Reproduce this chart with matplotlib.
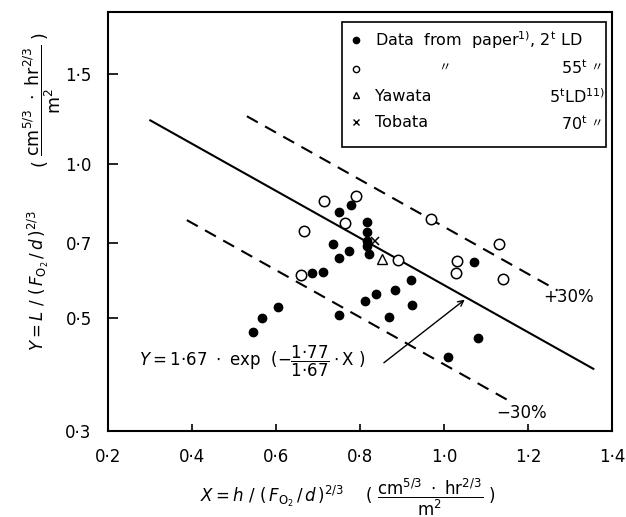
import matplotlib
matplotlib.use("Agg")
import matplotlib.pyplot as plt
import numpy as np
from matplotlib.lines import Line2D
from matplotlib.patches import Rectangle

# values
paper_2t_x = [0.777, 0.749, 0.817, 0.817, 0.817, 0.817, 0.820, 0.736, 0.772, 0.749,
              0.686, 0.711, 0.603, 0.565, 0.544, 0.749, 0.812, 0.838, 0.883, 0.921,
              0.924, 0.868, 1.071, 1.080, 1.009]
paper_2t_y = [0.832, 0.805, 0.769, 0.736, 0.705, 0.690, 0.667, 0.698, 0.676, 0.654,
              0.610, 0.613, 0.525, 0.500, 0.468, 0.507, 0.538, 0.556, 0.566, 0.592,
              0.529, 0.501, 0.641, 0.456, 0.419]
paper_55t_x = [0.713, 0.791, 0.763, 0.667, 0.658, 0.889, 0.968, 1.131, 1.031, 1.029, 1.139]
paper_55t_y = [0.844, 0.866, 0.766, 0.738, 0.607, 0.649, 0.780, 0.697, 0.644, 0.610, 0.596]
yawata_x = [0.851]
yawata_y = [0.651]
tobata_x = [0.836]
tobata_y = [0.707]

# Y = 1.67 exp(-1.77/1.67 X), with +-30 % bands
fit_a = 1.67
fit_b = 1.77
fit_x = [0.30, 1.355]
upper_x = [0.53, 1.27]
lower_x = [0.387, 1.15]

xticks = [0.2, 0.4, 0.6, 0.8, 1.0, 1.2, 1.4]
xticklabels = ['0·2', '0·4', '0·6', '0·8', '1·0', '1·2', '1·4']
yticks = [0.3, 0.5, 0.7, 1.0, 1.5]
yticklabels = ['0·3', '0·5', '0·7', '1·0', '1·5']


def fit(x, k=1.0):
    return k * fit_a * np.exp(-fit_b / fit_a * np.asarray(x))


fig = plt.figure(figsize=(6.26, 5.17), dpi=100)
ax = fig.add_axes([0.173, 0.166, 0.805, 0.811])

xs = np.linspace(fit_x[0], fit_x[1], 50)
ax.plot(xs, fit(xs), color='black', lw=1.5)
xs = np.linspace(upper_x[0], upper_x[1], 50)
ax.plot(xs, fit(xs, 1.3), color='black', lw=1.5, dashes=(6, 4))
xs = np.linspace(lower_x[0], lower_x[1], 50)
ax.plot(xs, fit(xs, 0.7), color='black', lw=1.5, dashes=(6, 4))

ax.plot(paper_2t_x, paper_2t_y, 'o', ms=6, color='black', ls='none')
ax.plot(paper_55t_x, paper_55t_y, 'o', ms=7.5, mfc='white', mec='black', mew=1.1, ls='none')
ax.plot(yawata_x, yawata_y, '^', ms=7, mfc='white', mec='black', mew=1.0, ls='none')
ax.plot(tobata_x, tobata_y, 'x', ms=6, color='black', mew=1.1, ls='none')

ax.set_yscale('log')
ax.set_xlim(0.2, 1.4)
ax.set_ylim(0.3, 1.98)
ax.set_xticks(xticks)
ax.set_xticklabels(xticklabels)
ax.set_yticks(yticks)
ax.set_yticklabels(yticklabels)
ax.yaxis.set_minor_locator(matplotlib.ticker.NullLocator())
ax.tick_params(axis='both', direction='in', labelsize=12, width=1.2)
ax.tick_params(axis='y', length=7, pad=12)
ax.tick_params(axis='x', length=5, pad=12)
for s in ax.spines.values():
    s.set_linewidth(1.5)

# equation and arrow
ax.text(0.272, 0.41, r'$Y = \mathrm{1·67\ \cdot\ exp}\ \ (-\dfrac{\mathrm{1·77}}{\mathrm{1·67}}\cdot\mathrm{X}\ )$',
        fontsize=12, ha='left', va='center')
ax.annotate('', xy=(1.054, fit(1.054)), xytext=(0.851, 0.405),
            arrowprops=dict(arrowstyle='->', color='black', lw=1.0))
ax.text(1.296, 0.55, '+30%', fontsize=12, ha='center', va='center')
ax.text(1.183, 0.326, '−30%', fontsize=12, ha='center', va='center')

# legend: frame drawn by hand, two text columns
ax.add_patch(Rectangle((0.464, 0.678), 0.524, 0.298, transform=ax.transAxes,
                       fc='white', ec='black', lw=1.2, zorder=4))
handles = [Line2D([], [], marker='o', ls='none', color='black', ms=4.5),
           Line2D([], [], marker='o', ls='none', mfc='white', mec='black', ms=4.5),
           Line2D([], [], marker='^', ls='none', mfc='white', mec='black', ms=4.5),
           Line2D([], [], marker='x', ls='none', color='black', ms=4.5)]
labels = [r'Data  from  paper$^{1)}$, 2$^{\mathrm{t}}$ LD', ' ', 'Yawata', 'Tobata']
leg = ax.legend(handles, labels, loc='upper left', bbox_to_anchor=(0.464, 0.976),
                fontsize=11.5, frameon=False, borderaxespad=0, handlelength=0.8,
                handletextpad=0.8, labelspacing=0.72, borderpad=0.45)
leg.set_zorder(5)

ax.text(0.951, 0.866, r'55$^{\mathrm{t}}$', fontsize=11.5, ha='right', va='center',
        transform=ax.transAxes, zorder=6)
ax.text(0.986, 0.799, r'5$^{\mathrm{t}}$LD$^{11)}$', fontsize=11.5, ha='right', va='center',
        transform=ax.transAxes, zorder=6)
ax.text(0.951, 0.733, r'70$^{\mathrm{t}}$', fontsize=11.5, ha='right', va='center',
        transform=ax.transAxes, zorder=6)
for xx, yy in [(0.667, 0.866), (0.968, 0.866), (0.968, 0.733)]:
    ax.text(xx, yy, '〃', fontsize=9, ha='center', va='center', transform=ax.transAxes,
            family=['Noto Sans CJK JP', 'DejaVu Sans'], zorder=6)

# axis titles
unit = r'(\ \dfrac{\mathrm{cm^{5/3}\ \cdot\ hr^{2/3}}}{\mathrm{m^2}}\ )'
fig.text(0.555, 0.038, r'$X = h\ /\ (\,F_{\mathrm{O_2}}\,/\,d\,)^{2/3}\quad\ ' + unit + '$',
         fontsize=12, ha='center', va='center')
fig.text(0.061, 0.458, r'$Y = L\ /\ (\,F_{\mathrm{O_2}}\,/\,d\,)^{2/3}$', fontsize=12,
         rotation=90, ha='center', va='center')
fig.text(0.068, 0.807, '$' + unit + '$', fontsize=12.5,
         rotation=90, ha='center', va='center')

fig.savefig('out.png', dpi=100)
